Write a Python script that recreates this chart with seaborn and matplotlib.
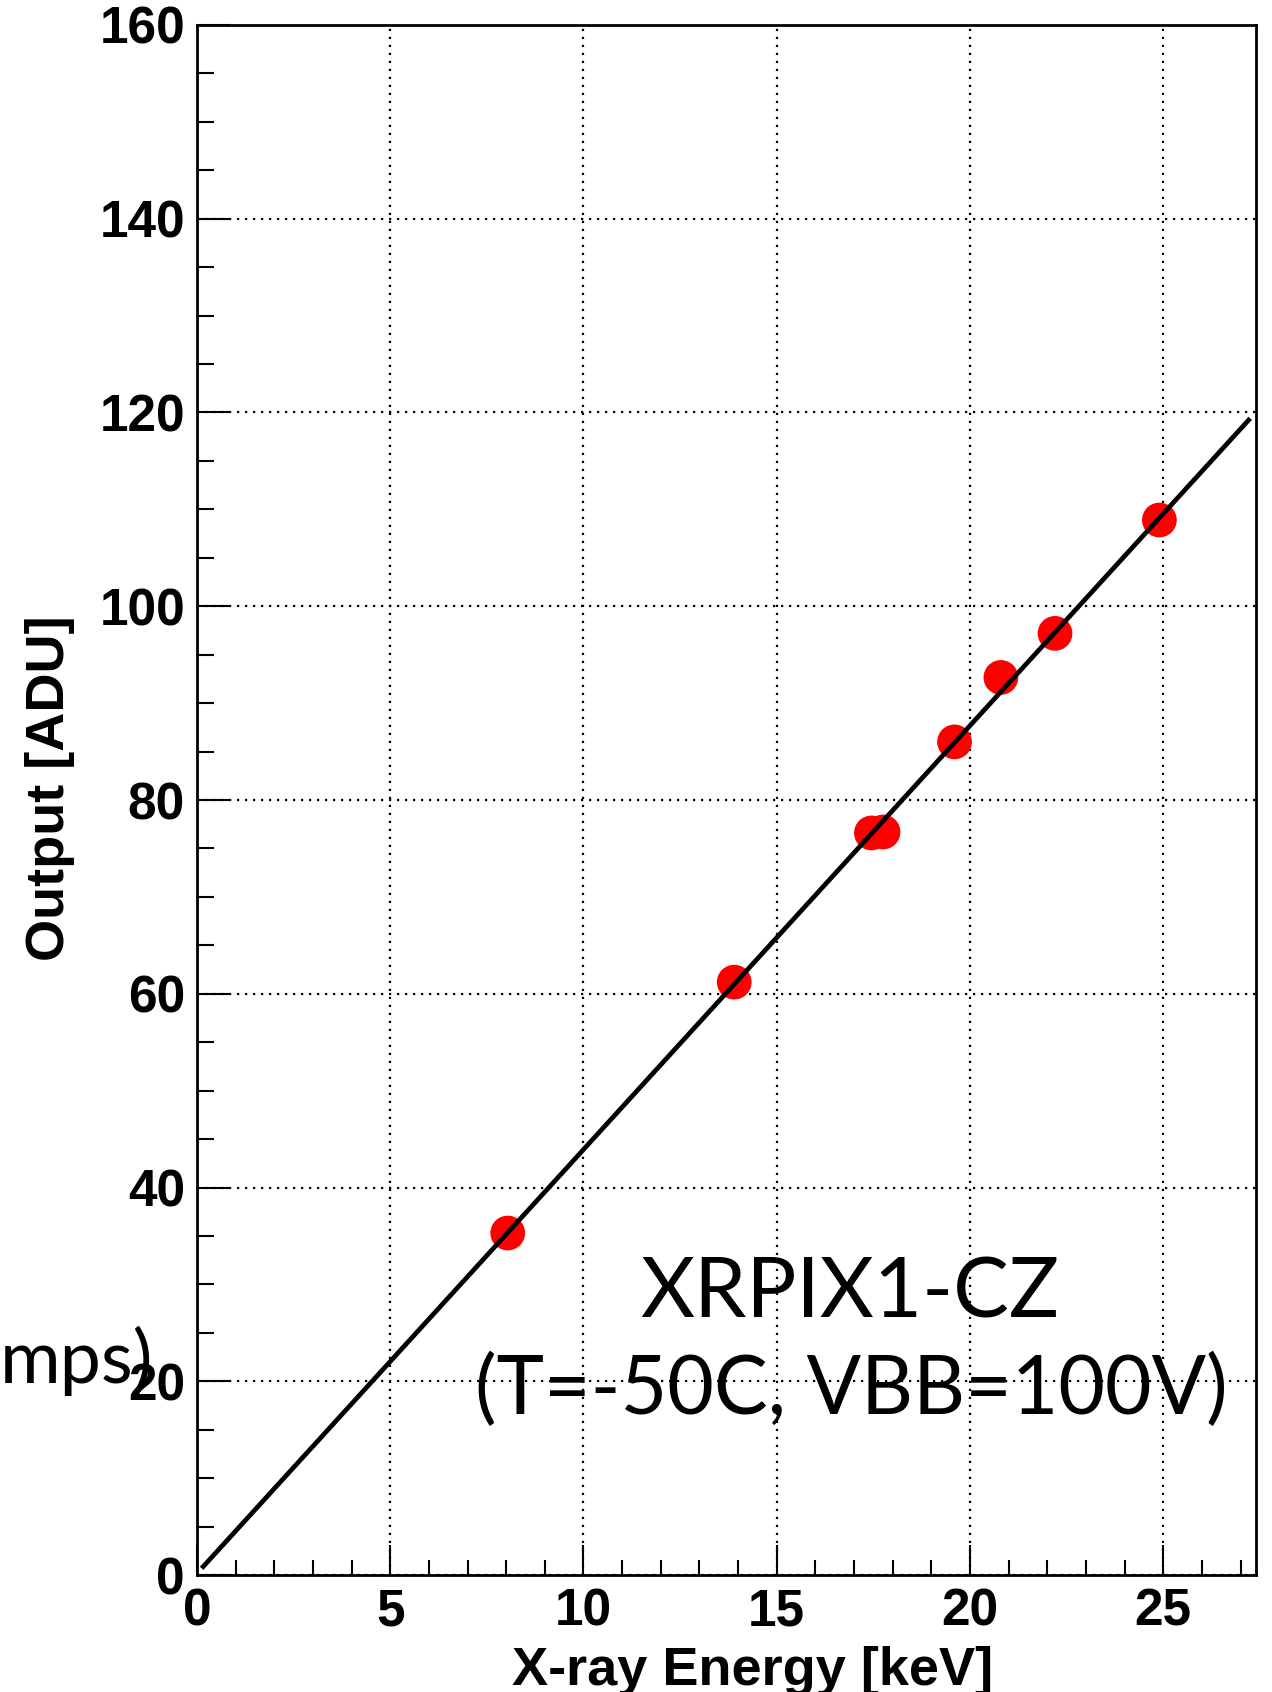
import matplotlib
matplotlib.use("Agg")
import matplotlib.pyplot as plt
import seaborn as sns
import pandas as pd
from matplotlib.ticker import MultipleLocator, FixedLocator

# ---- data ----
energy_kev = [8.04, 13.9, 17.45, 17.75, 19.6, 20.8, 22.2, 24.9]
output_adu = [35.3, 61.2, 76.6, 76.7, 86.0, 92.65, 97.2, 108.9]
fit_energy = [0.12, 27.25]
fit_output = [0.69, 119.4]
x_ticks = [0, 5, 10, 15, 20, 25]
y_ticks = [0, 20, 40, 60, 80, 100, 120, 140, 160]
x_label = "X-ray Energy [keV]"
y_label = "Output [ADU]"
annotation_lines = ["XRPIX1-CZ", "(T=-50C, VBB=100V)"]
cut_text = "mps)"

sns.set_theme(style="white")
plt.rcParams['font.family'] = ['Liberation Sans', 'DejaVu Sans']
plt.rcParams['font.weight'] = 'bold'

W, H = 1272, 1692
fig = plt.figure(figsize=(W / 100, H / 100), dpi=100)
left, right, top, bottom = 197, 1256, 25, 1575
ax = fig.add_axes([left / W, 1 - bottom / H, (right - left) / W, (bottom - top) / H])

df = pd.DataFrame({"energy": energy_kev, "output": output_adu})
sns.scatterplot(data=df, x="energy", y="output", ax=ax, s=25 ** 2,
                color="#ff0000", edgecolor="none", linewidth=0, zorder=3)
fit_df = pd.DataFrame({"energy": fit_energy, "output": fit_output})
sns.lineplot(data=fit_df, x="energy", y="output", ax=ax, color="black",
             linewidth=3.4, zorder=4, solid_capstyle="butt")

ax.set_xlim(0, 27.4)
ax.set_ylim(0, 160)
ax.xaxis.set_major_locator(FixedLocator(x_ticks))
ax.yaxis.set_major_locator(FixedLocator(y_ticks))
ax.set_xticklabels([str(t) for t in x_ticks])
ax.set_yticklabels([str(t) for t in y_ticks])
ax.xaxis.set_minor_locator(MultipleLocator(1))
ax.yaxis.set_minor_locator(MultipleLocator(5))

ax.grid(True, which="major", linestyle=(0, (1, 2.6)), color="black", linewidth=1.6, zorder=1)
ax.set_axisbelow(True)

ax.tick_params(axis="x", which="major", direction="in", length=21.6, width=1.5,
               labelsize=37, pad=9, colors="black", bottom=True, top=False)
ax.tick_params(axis="x", which="minor", direction="in", length=10.8, width=1.5,
               bottom=True, top=False, colors="black")
ax.tick_params(axis="y", which="major", direction="in", length=24, width=1.5,
               labelsize=37, pad=8.6, colors="black", left=True, right=False)
ax.tick_params(axis="y", which="minor", direction="in", length=12.5, width=1.5,
               left=True, right=False, colors="black")
for lab in ax.get_xticklabels() + ax.get_yticklabels():
    lab.set_fontweight("bold")

for sp in ax.spines.values():
    sp.set_visible(True)
    sp.set_color("black")
    sp.set_linewidth(2.0)
    sp.set_zorder(5)

ax.set_xlabel("")
ax.set_ylabel("")
fig.text(753 / W, 1 - 1685 / H, x_label, ha="center", va="baseline",
         fontsize=39, fontweight="bold", color="black")
fig.text(50 / W, 1 - 788 / H, y_label, ha="center", va="center", rotation=90,
         fontsize=39, fontweight="bold", color="black")

ann_font = ['Lato', 'DejaVu Sans']
fig.text(850 / W, 1 - 1318 / H, annotation_lines[0], ha="center", va="baseline",
         fontsize=60, fontweight="normal", family=ann_font, color="black")
fig.text(851 / W, 1 - 1414 / H, annotation_lines[1], ha="center", va="baseline",
         fontsize=58, fontweight="normal", family=ann_font, color="black")
fig.text(0.0, 1 - 1383 / H, cut_text, ha="left", va="baseline",
         fontsize=53, fontweight="normal", family=ann_font, color="black")

fig.savefig("out.png", dpi=100)
